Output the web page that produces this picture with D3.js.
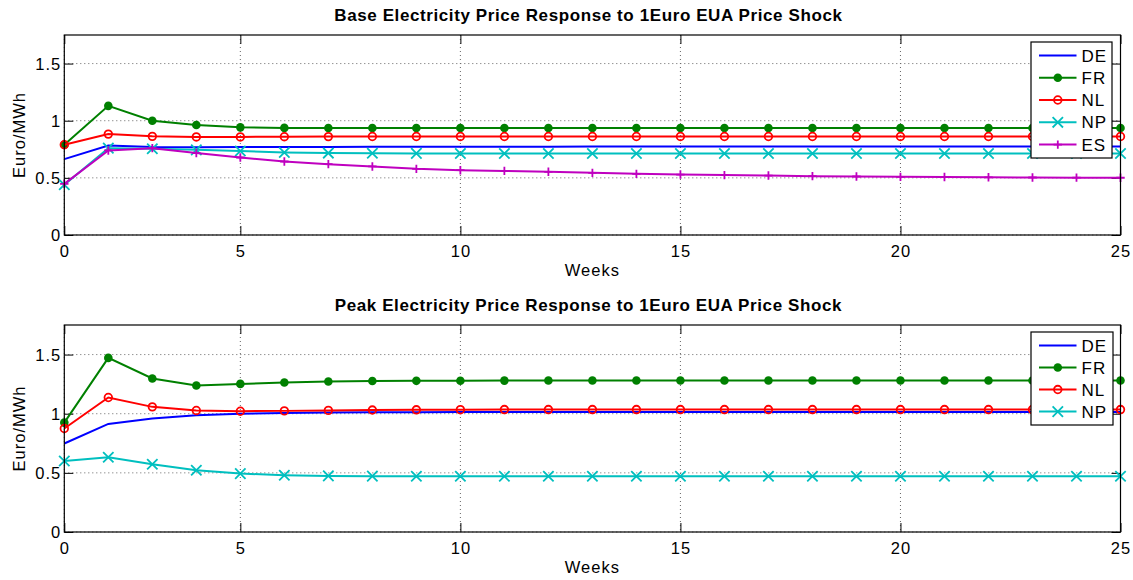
<!DOCTYPE html>
<html><head><meta charset="utf-8">
<script src="https://cdn.jsdelivr.net/npm/d3@7"></script>
<style>
html,body{margin:0;padding:0;background:#fff;}
svg text{font-family:"Liberation Sans",Arial,Helvetica,sans-serif;fill:#000;}
</style></head>
<body><svg id="c" width="1133" height="580"></svg>
<script>
// ---- data ----
const periods = d3.range(1, 26); // 25 weekly steps (index)
const xTickValues = [1, 5, 10, 15, 20, 25];
const xTickLabels = ["0", "5", "10", "15", "20", "25"];
const yTickValues = [0, 0.5, 1, 1.5];
const yTickLabels = ["0", "0.5", "1", "1.5"];

const baseDE = [0.664,0.783,0.770,0.768,0.769,0.770,0.771,0.772,0.772,0.773,0.773,0.773,0.774,0.774,0.774,0.774,0.774,0.774,0.774,0.774,0.774,0.774,0.774,0.774,0.774];
const baseFR = [0.790,1.130,1.000,0.962,0.942,0.937,0.936,0.936,0.936,0.936,0.936,0.936,0.936,0.936,0.936,0.936,0.936,0.936,0.936,0.936,0.936,0.936,0.936,0.936,0.936];
const baseNL = [0.790,0.883,0.863,0.858,0.858,0.860,0.861,0.862,0.862,0.862,0.862,0.862,0.862,0.862,0.862,0.862,0.862,0.862,0.862,0.862,0.862,0.862,0.862,0.862,0.862];
const baseNP = [0.440,0.760,0.755,0.745,0.735,0.722,0.717,0.715,0.714,0.713,0.713,0.713,0.713,0.713,0.713,0.713,0.713,0.713,0.713,0.713,0.713,0.713,0.713,0.713,0.713];
const baseES = [0.447,0.740,0.760,0.717,0.678,0.643,0.620,0.600,0.579,0.567,0.561,0.553,0.544,0.535,0.529,0.524,0.520,0.515,0.512,0.509,0.507,0.505,0.503,0.502,0.501];

const peakDE = [0.748,0.914,0.960,0.987,1.000,1.007,1.010,1.012,1.013,1.014,1.015,1.015,1.015,1.015,1.015,1.015,1.015,1.015,1.015,1.015,1.015,1.015,1.015,1.015,1.015];
const peakFR = [0.925,1.472,1.298,1.238,1.252,1.264,1.272,1.276,1.278,1.279,1.280,1.281,1.281,1.281,1.281,1.281,1.281,1.281,1.281,1.281,1.281,1.281,1.281,1.281,1.281];
const peakNL = [0.875,1.137,1.058,1.027,1.021,1.024,1.028,1.031,1.033,1.034,1.035,1.035,1.035,1.035,1.035,1.035,1.035,1.035,1.035,1.035,1.035,1.035,1.035,1.035,1.035];
const peakNP = [0.600,0.632,0.573,0.522,0.494,0.480,0.474,0.472,0.471,0.471,0.471,0.471,0.471,0.471,0.471,0.471,0.471,0.471,0.471,0.471,0.471,0.471,0.471,0.471,0.471];

const titles = ["Base Electricity Price Response to 1Euro EUA Price Shock",
                "Peak Electricity Price Response to 1Euro EUA Price Shock"];
const xLabel = "Weeks";
const yLabel = "Euro/MWh";

// ---- styles ----
const styles = {
  DE: {color: "#0000ff", marker: "none"},
  FR: {color: "#008000", marker: "dot"},
  NL: {color: "#ff0000", marker: "circle"},
  NP: {color: "#00bfbf", marker: "x"},
  ES: {color: "#bf00bf", marker: "plus"}
};

const panels = [
  {top: 35, bottom: 235, title: titles[0],
   series: [["DE", baseDE], ["FR", baseFR], ["NL", baseNL], ["NP", baseNP], ["ES", baseES]],
   legend: {x: 1031, y: 42, w: 81, h: 116}},
  {top: 325, bottom: 532, title: titles[1],
   series: [["DE", peakDE], ["FR", peakFR], ["NL", peakNL], ["NP", peakNP]],
   legend: {x: 1031, y: 332, w: 82, h: 93}}
];

const svg = d3.select("#c");
const L = 64.3, R = 1120.5;
const x = d3.scaleLinear().domain([1, 25]).range([L, R]);

function drawMarker(g, type, cx, cy, color) {
  if (type === "dot") {
    g.append("circle").attr("cx", cx).attr("cy", cy).attr("r", 4.3).attr("fill", color);
  } else if (type === "circle") {
    g.append("circle").attr("cx", cx).attr("cy", cy).attr("r", 3.8)
      .attr("fill", "none").attr("stroke", color).attr("stroke-width", 1.8);
  } else if (type === "x") {
    const s = 5.2;
    g.append("path").attr("d", `M${cx-s},${cy-s}L${cx+s},${cy+s}M${cx-s},${cy+s}L${cx+s},${cy-s}`)
      .attr("stroke", color).attr("stroke-width", 1.8);
  } else if (type === "plus") {
    const s = 4.2;
    g.append("path").attr("d", `M${cx-s},${cy}L${cx+s},${cy}M${cx},${cy-s}L${cx},${cy+s}`)
      .attr("stroke", color).attr("stroke-width", 1.8);
  }
}

panels.forEach(p => {
  const y = d3.scaleLinear().domain([0, 1.75]).range([p.bottom, p.top]);
  const g = svg.append("g");

  // grid
  const grid = g.append("g").attr("stroke", "#666").attr("stroke-width", 1).attr("stroke-dasharray", "1,3");
  xTickValues.forEach(v => grid.append("line").attr("x1", x(v)).attr("x2", x(v)).attr("y1", p.top).attr("y2", p.bottom));
  yTickValues.forEach(v => grid.append("line").attr("x1", L).attr("x2", R).attr("y1", y(v)).attr("y2", y(v)));

  // axes with inward ticks
  const tl = 9;
  const xb = g.append("g").attr("transform", `translate(0,${p.bottom})`)
    .call(d3.axisBottom(x).tickValues(xTickValues).tickSizeInner(-tl).tickSizeOuter(0).tickPadding(10)
      .tickFormat((d, i) => xTickLabels[i]));
  const xt = g.append("g").attr("transform", `translate(0,${p.top})`)
    .call(d3.axisTop(x).tickValues(xTickValues).tickSizeInner(-tl).tickSizeOuter(0).tickFormat(""));
  const yl = g.append("g").attr("transform", `translate(${L},0)`)
    .call(d3.axisLeft(y).tickValues(yTickValues).tickSizeInner(-tl).tickSizeOuter(0).tickPadding(3)
      .tickFormat((d, i) => yTickLabels[i]));
  const yr = g.append("g").attr("transform", `translate(${R},0)`)
    .call(d3.axisRight(y).tickValues(yTickValues).tickSizeInner(-tl).tickSizeOuter(0).tickFormat(""));
  [xb, xt, yl, yr].forEach(a => {
    a.select(".domain").remove();
    a.selectAll("line").attr("stroke", "#000");
    a.selectAll("text").attr("font-size", 16.5).style("letter-spacing", "1px")
      .style("font-family", '"Liberation Sans",Arial,sans-serif');
  });
  yl.selectAll("text").attr("dy", "0.36em");

  // series
  const line = d3.line().x((d, i) => x(periods[i])).y(d => y(d));
  p.series.forEach(([name, vals]) => {
    const st = styles[name];
    g.append("path").datum(vals).attr("d", line).attr("fill", "none")
      .attr("stroke", st.color).attr("stroke-width", 2);
    const mg = g.append("g");
    vals.forEach((v, i) => drawMarker(mg, st.marker, x(periods[i]), y(v), st.color));
  });

  // box
  g.append("rect").attr("x", L).attr("y", p.top).attr("width", R - L).attr("height", p.bottom - p.top)
    .attr("fill", "none").attr("stroke", "#000").attr("stroke-width", 1.2);

  // title
  g.append("text").attr("x", (L + R) / 2 - 4).attr("y", p.top - 14.5).attr("text-anchor", "middle")
    .attr("font-size", 17).attr("font-weight", "bold").style("letter-spacing", "0.6px").text(p.title);
  // x label
  g.append("text").attr("x", (L + R) / 2).attr("y", p.bottom + 40.5).attr("text-anchor", "middle")
    .attr("font-size", 16.5).style("letter-spacing", "1px").text(xLabel);
  // y label
  g.append("text").attr("transform", `translate(25,${(p.top + p.bottom) / 2}) rotate(-90)`)
    .attr("text-anchor", "middle").attr("font-size", 16.5).style("letter-spacing", "1px").text(yLabel);

  // legend
  const lg = g.append("g");
  const lb = p.legend;
  lg.append("rect").attr("x", lb.x).attr("y", lb.y).attr("width", lb.w).attr("height", lb.h)
    .attr("fill", "#fff").attr("stroke", "#000").attr("stroke-width", 1.2);
  const n = p.series.length;
  const step = (lb.h - 26.8) / (n - 1);
  p.series.forEach(([name], i) => {
    const st = styles[name];
    const cy = lb.y + 13.4 + i * step;
    lg.append("line").attr("x1", lb.x + 8).attr("x2", lb.x + 45.5).attr("y1", cy).attr("y2", cy)
      .attr("stroke", st.color).attr("stroke-width", 2);
    drawMarker(lg, st.marker, lb.x + 26.8, cy, st.color);
    lg.append("text").attr("x", lb.x + 50.5).attr("y", cy).attr("dy", "0.36em")
      .attr("font-size", 17).style("letter-spacing", "1px").text(name);
  });
});
</script></body></html>
